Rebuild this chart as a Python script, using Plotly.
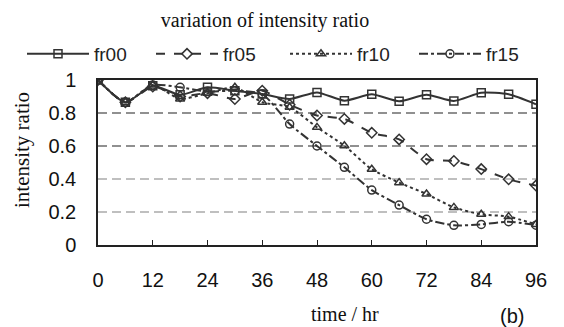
import plotly.graph_objects as go

time_hr = [0, 6, 12, 18, 24, 30, 36, 42, 48, 54, 60, 66, 72, 78, 84, 90, 96]
fr00 = [1.0, 0.865, 0.965, 0.91, 0.956, 0.935, 0.915, 0.885, 0.925, 0.875, 0.913, 0.871, 0.911, 0.873, 0.923, 0.913, 0.853]
fr05 = [1.0, 0.865, 0.96, 0.90, 0.92, 0.885, 0.935, 0.85, 0.785, 0.764, 0.68, 0.64, 0.52, 0.509, 0.46, 0.398, 0.36]
fr10 = [1.0, 0.865, 0.97, 0.885, 0.92, 0.956, 0.865, 0.835, 0.713, 0.602, 0.459, 0.378, 0.309, 0.228, 0.186, 0.172, 0.125]
fr15 = [1.0, 0.865, 0.97, 0.956, 0.93, 0.935, 0.915, 0.733, 0.60, 0.471, 0.333, 0.242, 0.156, 0.119, 0.125, 0.141, 0.12]

series_names = ["fr00", "fr05", "fr10", "fr15"]
series_vals = [fr00, fr05, fr10, fr15]
symbols = ["square-open", "diamond-open", "triangle-up-open", "circle-open"]
dashes = ["solid", "dash", "dot", "dashdot"]
legend_ids = ["legend", "legend", "legend2", "legend2"]

x_ticks = [0, 12, 24, 36, 48, 60, 72, 84, 96]
y_ticks = [0, 0.2, 0.4, 0.6, 0.8, 1]
y_tick_text = ["0", "0.2", "0.4", "0.6", "0.8", "1"]
grid_vals = [0.2, 0.4, 0.6, 0.8]
grid_colors = ["#808080", "#808080", "#222222", "#222222"]

ink = "#333333"

fig = go.Figure()
for name, vals, sym, dash, lg in zip(series_names, series_vals, symbols, dashes, legend_ids):
    fig.add_trace(go.Scatter(
        x=time_hr, y=vals, name=name, mode="lines+markers", legend=lg,
        line=dict(color=ink, width=2, dash=dash, shape="spline", smoothing=0.6),
        marker=dict(symbol=sym, size=8, color=ink, line=dict(color=ink, width=1.5)),
    ))

shapes = []
for gv, gc in zip(grid_vals, grid_colors):
    shapes.append(dict(type="line", xref="paper", yref="y", x0=0, x1=1, y0=gv, y1=gv,
                       line=dict(color=gc, width=1.2, dash="9px,5px"), layer="below"))

legend_common = dict(orientation="h", xanchor="left", xref="container",
                     y=1 - 54 / 327, yanchor="middle", yref="container",
                     font=dict(family="Liberation Sans", size=19, color="#222"),
                     itemwidth=62, entrywidth=52, tracegroupgap=0, bgcolor="rgba(0,0,0,0)")

fig.update_layout(
    width=564, height=327,
    margin=dict(l=98, r=28, t=80, b=82, autoexpand=False),
    paper_bgcolor="white", plot_bgcolor="white",
    showlegend=True,
    shapes=shapes,
    title=dict(text="variation of intensity ratio", x=265 / 564, xanchor="center", xref="container",
               y=1 - 20 / 327, yanchor="middle", yref="container",
               font=dict(family="Liberation Serif", size=20, color="#111")),
    legend=dict(x=22 / 564, **legend_common),
    legend2=dict(x=285 / 564, **legend_common),
    xaxis=dict(range=[0, 96], tickvals=x_ticks, ticktext=[str(v) for v in x_ticks],
               showgrid=False, zeroline=False, showline=True, linecolor="#222", linewidth=1.5,
               mirror=True, ticks="inside", ticklen=5, tickcolor="#222",
               ticklabelstandoff=16,
               tickfont=dict(family="Liberation Sans", size=20, color="#111")),
    yaxis=dict(range=[0, 1], tickvals=y_ticks, ticktext=y_tick_text,
               showgrid=False, zeroline=False, showline=True, linecolor="#222", linewidth=1.5,
               mirror=True, ticks="", ticklabelstandoff=16,
               tickfont=dict(family="Liberation Sans", size=20, color="#111")),
    annotations=[
        dict(text="intensity ratio", xref="paper", yref="paper", x=(22 - 98) / 438, y=(245 - 150) / 165,
             xanchor="center", yanchor="middle", textangle=-90, showarrow=False,
             font=dict(family="Liberation Serif", size=21, color="#111")),
        dict(text="time / hr", xref="paper", yref="paper", x=(345 - 98) / 438, y=-(314 - 245) / 165,
             xanchor="center", yanchor="middle", showarrow=False,
             font=dict(family="Liberation Serif", size=20, color="#111")),
        dict(text="(b)", xref="paper", yref="paper", x=(512 - 98) / 438, y=-(316 - 245) / 165,
             xanchor="center", yanchor="middle", showarrow=False,
             font=dict(family="Liberation Sans", size=20, color="#111")),
    ],
)

fig.write_html("out.html")
